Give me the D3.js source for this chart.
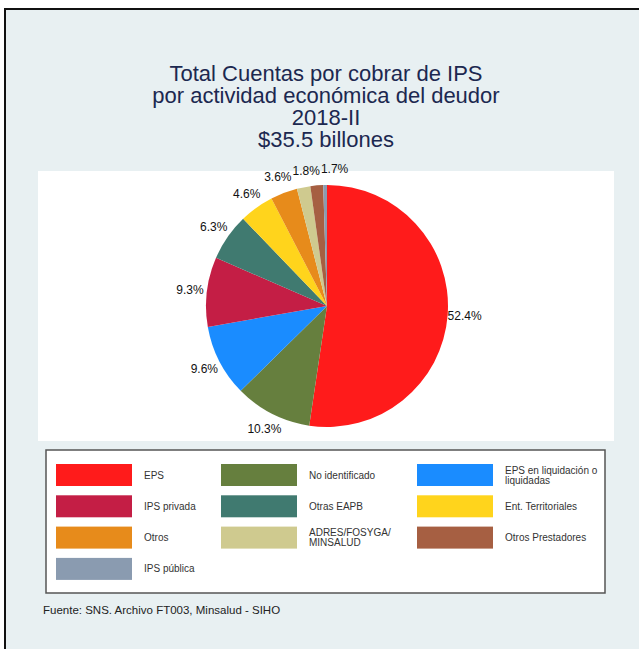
<!DOCTYPE html>
<html>
<head>
<meta charset="utf-8">
<script src="https://cdn.jsdelivr.net/npm/d3@7"></script>
<style>
  body { margin: 0; background: #fff; }
  svg { display: block; font-family: "Liberation Sans", Arial, sans-serif; }
</style>
</head>
<body>
<div class="diagram"></div>
<script>
// chart data
const categories = ["EPS", "No identificado", "EPS en liquidación o liquidadas", "IPS privada",
  "Otras EAPB", "Ent. Territoriales", "Otros", "ADRES/FOSYGA/ MINSALUD", "Otros Prestadores", "IPS pública"];
const shares = [52.4, 10.3, 9.6, 9.3, 6.3, 4.6, 3.6, 1.8, 1.7, 0.5];
const colors = ["#ff1b1b", "#667f3e", "#1a8cff", "#c41e45", "#407a70", "#ffd41c",
  "#e78b1b", "#cfca8f", "#a65f42", "#8a9bb0"];
// legend layout: rows of three, label split into lines
const legendLabels = [["EPS"], ["No identificado"], ["EPS en liquidación o", "liquidadas"],
  ["IPS privada"], ["Otras EAPB"], ["Ent. Territoriales"],
  ["Otros"], ["ADRES/FOSYGA/", "MINSALUD"], ["Otros Prestadores"], ["IPS pública"]];
const titleLines = ["Total Cuentas por cobrar de IPS", "por actividad económica del deudor", "2018-II", "$35.5 billones"];
const source = "Fuente: SNS. Archivo FT003, Minsalud - SIHO";

const W = 639, H = 649;
const svg = d3.select(".diagram")
  .append("svg")
    .attr("width", W)
    .attr("height", H);

// outer frame
svg.append("rect")
  .attr("x", 5).attr("y", 9)
  .attr("width", 700).attr("height", 700)
  .attr("fill", "#e8f0f2")
  .attr("stroke", "#111")
  .attr("stroke-width", 2);

// title
svg.append("g")
  .selectAll("text")
  .data(titleLines)
  .join("text")
    .attr("x", 326)
    .attr("y", (d, i) => 81 + i * 22)
    .attr("text-anchor", "middle")
    .attr("fill", "#1c2850")
    .style("font-size", "22px")
    .text(d => d);

// plot region
svg.append("rect")
  .attr("x", 38).attr("y", 171)
  .attr("width", 576).attr("height", 270)
  .attr("fill", "#fff");

const radius = 121;
const pieG = svg.append("g")
  .attr("transform", "translate(327, 306)");

const pie = d3.pie().sort(null).value(d => d)(shares);
const arc = d3.arc().innerRadius(0).outerRadius(radius);
const labelArc = d3.arc().innerRadius(138).outerRadius(138);

pieG.selectAll("path")
  .data(pie)
  .join("path")
    .attr("d", arc)
    .attr("fill", (d, i) => colors[i]);

// labels, slices under 1% left unlabelled
const labels = pieG.selectAll("text")
  .data(pie.filter(d => d.data >= 1))
  .join("text")
    .attr("transform", d => `translate(${labelArc.centroid(d)})`)
    .attr("text-anchor", "middle")
    .attr("dy", "0.35em")
    .attr("fill", "#111")
    .style("font-size", "12px")
    .text(d => d3.format(".1f")(d.data) + "%");

// push the small top labels apart so they don't overlap
let prevRight = null, prevY = null;
labels.each(function(d) {
  const c = labelArc.centroid(d);
  const w = this.getComputedTextLength();
  let x = c[0];
  if (prevRight !== null && Math.abs(c[1] - prevY) < 12 && x - w / 2 < prevRight) {
    x = prevRight + w / 2 + 1;
    d3.select(this).attr("transform", `translate(${x}, ${c[1]})`);
  }
  prevRight = x + w / 2;
  prevY = c[1];
});

// legend
svg.append("rect")
  .attr("x", 46).attr("y", 450)
  .attr("width", 559).attr("height", 143)
  .attr("fill", "#fff")
  .attr("stroke", "#555")
  .attr("stroke-width", 1.5);

const colX = [56, 221, 417];
const legend = svg.append("g")
  .selectAll("g")
  .data(categories)
  .join("g")
    .attr("transform", (d, i) => `translate(${colX[i % 3]}, ${464 + Math.floor(i / 3) * 31.3})`);

legend.append("rect")
  .attr("width", 76).attr("height", 22)
  .attr("fill", (d, i) => colors[i]);

legend.append("text")
  .attr("x", 88)
  .attr("fill", "#333")
  .style("font-size", "10px")
  .each(function(d, i) {
    const lines = legendLabels[i];
    d3.select(this).selectAll("tspan")
      .data(lines)
      .join("tspan")
        .attr("x", 88)
        .attr("y", (l, j) => 11 + (j - (lines.length - 1) / 2) * 10)
        .attr("dy", "0.35em")
        .text(l => l);
  });

// source note
svg.append("text")
  .attr("x", 43).attr("y", 614)
  .attr("fill", "#222")
  .style("font-size", "11.5px")
  .text(source);
</script>
</body>
</html>
